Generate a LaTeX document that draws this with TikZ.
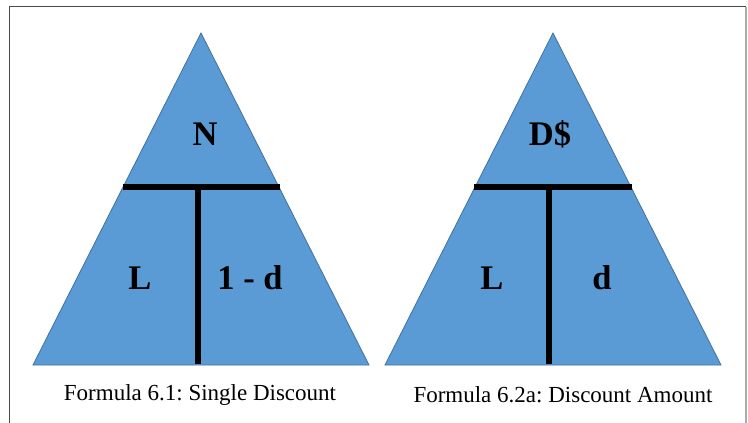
\documentclass[tikz,border=0pt]{standalone}
\usepackage{fontspec}
\setmainfont{Liberation Serif}
\frenchspacing
\definecolor{triblue}{HTML}{5B9BD5}
\definecolor{triedge}{HTML}{41719C}
\definecolor{framedark}{HTML}{4A4A4A}
\definecolor{framelight}{HTML}{ABABAB}
\begin{document}
\begin{tikzpicture}[x=1pt,y=-1pt,
  tri/.style={fill=triblue,draw=triedge,line width=0.8pt,line join=miter},
  bar/.style={line width=6pt,black},
  lbl/.style={font=\fontsize{34.5}{38}\selectfont\bfseries,inner sep=0pt},
  captext/.style={font=\fontsize{23}{26}\selectfont,inner sep=0pt}]
\useasboundingbox (0,0) rectangle (748,423);
\fill[white] (0,0) rectangle (748,423);
% frame
\draw[framedark,line width=1.6pt] (9.5,423) -- (9.5,6.5) -- (746,6.5);
\draw[framelight,line width=1.4pt] (746,6.5) -- (746,423);
% triangle 1
\coordinate (a1) at (201,33);
\coordinate (b1) at (33,365);
\coordinate (c1) at (369,365);
\draw[tri] (a1) -- (b1) -- (c1) -- cycle;
\coordinate (h1l) at (123,187);
\coordinate (h1r) at (280,187);
\coordinate (v1t) at (198,187);
\coordinate (v1b) at (198,364);
\draw[bar] (h1l) -- (h1r);
\draw[bar] (v1t) -- (v1b);
\node[lbl] (n1) at (205,134) {N};
\node[lbl] (l1) at (140,278) {L};
\node[lbl] (d1) at (250,278) {1 - d};
\node[captext] (cap1) at (200,395) {Formula 6.1: Single Discount};
% triangle 2
\coordinate (a2) at (553,33);
\coordinate (b2) at (385,365);
\coordinate (c2) at (721,365);
\draw[tri] (a2) -- (b2) -- (c2) -- cycle;
\coordinate (h2l) at (474,187);
\coordinate (h2r) at (632,187);
\coordinate (v2t) at (549,187);
\coordinate (v2b) at (549,364);
\draw[bar] (h2l) -- (h2r);
\draw[bar] (v2t) -- (v2b);
\node[lbl] (n2) at (550,134) {D\$};
\node[lbl] (l2) at (492,278) {L};
\node[lbl] (d2) at (602,278) {d};
\node[captext] (cap2) at (563,395) {Formula 6.2a: Discount Amount};
\end{tikzpicture}
\end{document}
